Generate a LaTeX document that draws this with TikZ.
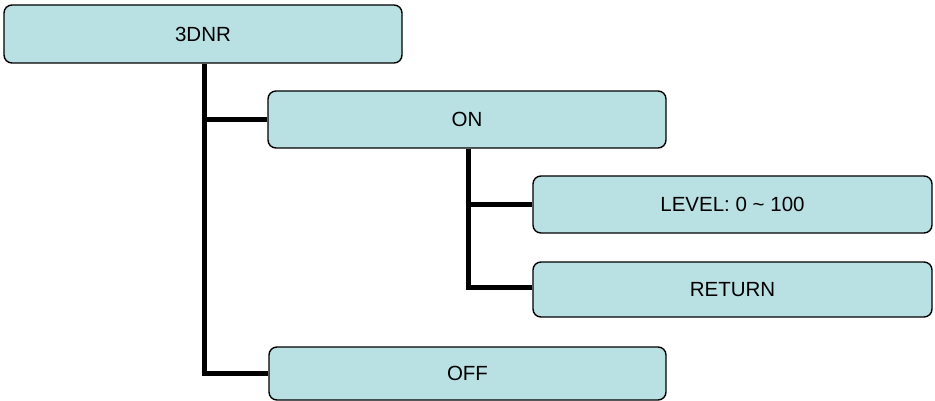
\documentclass[tikz,border=0pt]{standalone}
\usepackage{fontspec}
\setmainfont{Liberation Sans}
\definecolor{boxfill}{HTML}{B9E0E3}
\tikzset{
  menubox/.style={draw=black, line width=1.4pt, fill=boxfill, rounded corners=8pt, inner sep=0pt, font=\fontsize{20.5}{24}\selectfont},
  link/.style={line width=5pt}
}
\begin{document}
\begin{tikzpicture}[x=1pt,y=-1pt]
\useasboundingbox (0,0) rectangle (935,401);
\node[menubox, minimum width=398pt, minimum height=58pt] (dnr) at (203,34) {3DNR};
\node[menubox, minimum width=398pt, minimum height=57pt] (on) at (467,119.5) {ON};
\node[menubox, minimum width=399pt, minimum height=57pt] (lvl) at (732.5,204.5) {LEVEL: 0 \char"007E{} 100};
\node[menubox, minimum width=399pt, minimum height=55pt] (ret) at (732.5,289.5) {RETURN};
\node[menubox, minimum width=397pt, minimum height=53pt] (off) at (467.5,373.5) {OFF};
\coordinate (j1) at (204,373);
\coordinate (j2) at (468,287);
\draw[link] (dnr.south -| j1) -- (j1) -- (off.west |- j1);
\draw[link] (on.west) -- (on.west -| j1);
\draw[link] (on.south -| j2) -- (j2) -- (ret.west |- j2);
\draw[link] (lvl.west) -- (lvl.west -| j2);
\end{tikzpicture}
\end{document}
